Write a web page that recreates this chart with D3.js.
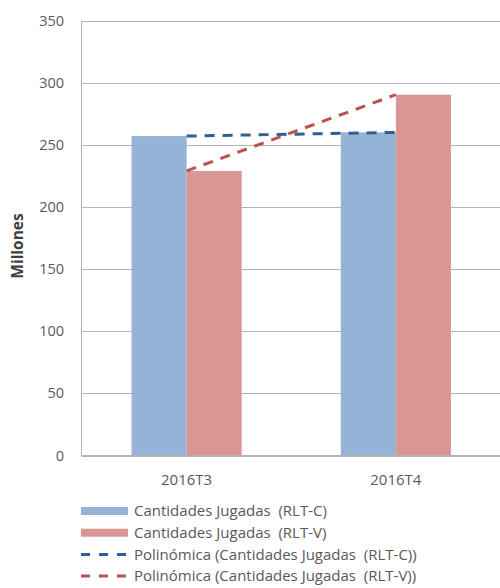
<!DOCTYPE html>
<html>
<head>
<meta charset="utf-8">
<script src="https://cdn.jsdelivr.net/npm/d3@7"></script>
<style>
  body { margin: 0; background: #fff; }
  svg { font-family: "Open Sans", sans-serif; }
  text { white-space: pre; }
</style>
</head>
<body>
<script>
const categories = ["2016T3", "2016T4"];
const seriesNames = ["Cantidades Jugadas  (RLT-C)", "Cantidades Jugadas  (RLT-V)"];
const valuesC = [257, 260];
const valuesV = [229, 290.3];
const yTicks = [0, 50, 100, 150, 200, 250, 300, 350];
const legendLabels = [
  "Cantidades Jugadas  (RLT-C)",
  "Cantidades Jugadas  (RLT-V)",
  "Polinómica (Cantidades Jugadas  (RLT-C))",
  "Polinómica (Cantidades Jugadas  (RLT-V))"
];

const width = 500, height = 588;
const barColors = ["#95b3d7", "#d99694"];
const trendColors = ["#2f5f91", "#c0504d"];
const textColor = "#595959";

const svg = d3.select("body").append("svg")
    .attr("width", width)
    .attr("height", height);

const x0 = d3.scaleBand().domain(categories).range([82, 500.5]);
const x1 = d3.scaleBand().domain(seriesNames).range([0, x0.bandwidth()]).paddingOuter(0.9);
const y = d3.scaleLinear().domain([0, 350]).range([455.5, 20.5]);

// grid
svg.append("g")
  .selectAll("line")
  .data(yTicks)
  .join("line")
    .attr("x1", 81.5).attr("x2", 500)
    .attr("y1", d => Math.round(y(d)) + 0.5).attr("y2", d => Math.round(y(d)) + 0.5)
    .attr("stroke", "#b4b4b4");

svg.append("line")
    .attr("x1", 81.5).attr("x2", 81.5)
    .attr("y1", y(350)).attr("y2", y(0))
    .attr("stroke", "#b4b4b4");

// y tick labels
svg.append("g")
  .selectAll("text")
  .data(yTicks)
  .join("text")
    .attr("x", 64)
    .attr("y", d => y(d))
    .attr("dy", "0.35em")
    .attr("text-anchor", "end")
    .attr("fill", textColor)
    .style("font-size", "14.5px")
    .text(d => d);

svg.append("text")
    .attr("transform", "translate(18,246) rotate(-90)")
    .attr("text-anchor", "middle")
    .attr("dy", "0.35em")
    .attr("fill", "#404040")
    .style("font-size", "15.5px")
    .style("font-weight", "bold")
    .text("Millones");

// bars
const series = [valuesC, valuesV];
series.forEach((vals, si) => {
  svg.append("g")
    .selectAll("rect")
    .data(categories)
    .join("rect")
      .attr("x", (d, i) => x0(d) + x1(seriesNames[si]))
      .attr("width", x1.bandwidth())
      .attr("y", (d, i) => y(vals[i]))
      .attr("height", (d, i) => y(0) - y(vals[i]))
      .attr("fill", barColors[si]);
});

// baseline
svg.append("line")
    .attr("x1", 81.5).attr("x2", 500)
    .attr("y1", 455.5).attr("y2", 455.5)
    .attr("stroke", "#b4b4b4");

// trend lines
const line = d3.line()
    .x((d, i) => x0(categories[i]) + x0.bandwidth() / 2)
    .y(d => y(d));
series.forEach((vals, si) => {
  svg.append("path")
      .attr("d", line(vals))
      .attr("fill", "none")
      .attr("stroke", trendColors[si])
      .attr("stroke-width", 3)
      .attr("stroke-dasharray", "10,8");
});

// x labels
svg.append("g")
  .selectAll("text")
  .data(categories)
  .join("text")
    .attr("x", d => x0(d) + x0.bandwidth() / 2)
    .attr("y", 480)
    .attr("dy", "0.35em")
    .attr("text-anchor", "middle")
    .attr("fill", textColor)
    .style("font-size", "15px")
    .text(d => d);

// legend
const legend = svg.append("g")
  .selectAll("g")
  .data(legendLabels)
  .join("g")
    .attr("transform", (d, i) => `translate(0,${511 + i * 21.7})`);

legend.each(function(d, i) {
  const g = d3.select(this);
  if (i < 2) {
    g.append("rect")
        .attr("x", 81).attr("y", -4)
        .attr("width", 47).attr("height", 8)
        .attr("fill", barColors[i]);
  } else {
    g.append("line")
        .attr("x1", 81).attr("x2", 128)
        .attr("stroke", trendColors[i - 2])
        .attr("stroke-width", 3)
        .attr("stroke-dasharray", "9,9");
  }
  g.append("text")
      .attr("x", 134)
      .attr("dy", "0.35em")
      .attr("fill", textColor)
      .style("font-size", "15px")
      .text(d);
});
</script>
</body>
</html>
